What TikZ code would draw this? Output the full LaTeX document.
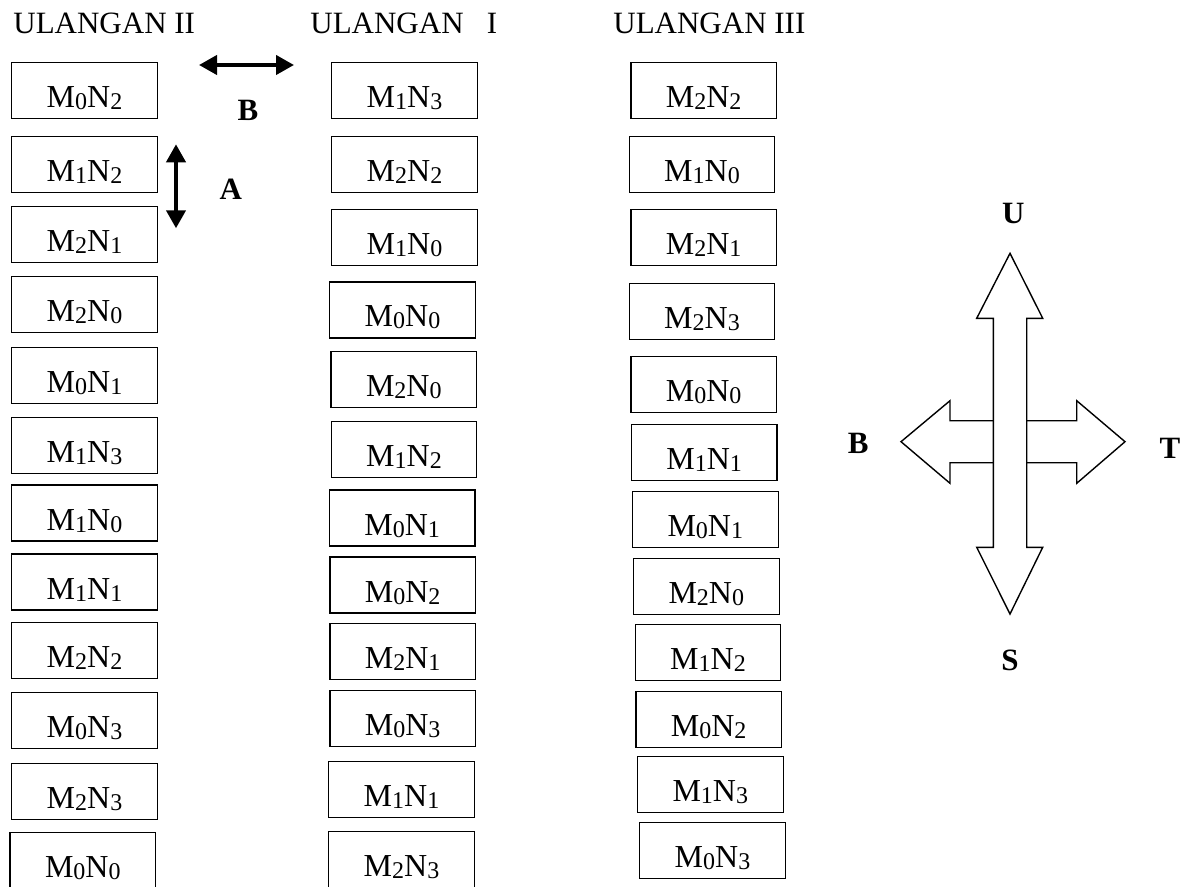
\documentclass[tikz,border=0pt]{standalone}
\usepackage{fontspec}
\setmainfont{Liberation Serif}
\usetikzlibrary{arrows.meta}
\newcommand{\sbx}[1]{\raisebox{-1pt}{\fontsize{12}{14}\selectfont #1}}
\newcommand{\mnlab}[2]{M\sbx{#1}N\sbx{#2}}
\begin{document}
\begin{tikzpicture}[x=0.5pt,y=-0.5pt,
  cell/.style={draw, line width=0.6pt, minimum width=72.8pt, minimum height=28pt, inner sep=0pt, text height=17pt, text depth=0pt, font=\fontsize{16}{19}\selectfont},
  ttl/.style={anchor=base west, inner sep=0pt, font=\fontsize{15.5}{18}\selectfont},
  lbl/.style={inner sep=0pt, font=\fontsize{15.5}{18}\selectfont\bfseries},
  dbl/.style={{Triangle[length=9pt,width=9.5pt]}-{Triangle[length=9pt,width=9.5pt]}, line width=2pt},
  compass/.style={line width=0.7pt, line join=miter}]
\clip (0,0) rectangle (1197,887);
\fill[white] (0,0) rectangle (1197,887);

% titles
\node[ttl] (t2) at (13,33.3) {ULANGAN II};
\node[ttl] (t1) at (310,33.3) {ULANGAN\hspace{0.75em}I};
\node[ttl] (t3) at (613,33.3) {ULANGAN III};

% column ULANGAN II
\node[cell] (a1)  at (84.5,90.3)  {\mnlab{0}{2}};
\node[cell] (a2)  at (84.5,164.2) {\mnlab{1}{2}};
\node[cell] (a3)  at (84.5,234.7) {\mnlab{2}{1}};
\node[cell] (a4)  at (84.5,304.7) {\mnlab{2}{0}};
\node[cell] (a5)  at (84.5,375.5) {\mnlab{0}{1}};
\node[cell] (a6)  at (84.5,445.2) {\mnlab{1}{3}};
\node[cell] (a7)  at (84.5,513)   {\mnlab{1}{0}};
\node[cell] (a8)  at (84.5,582)   {\mnlab{1}{1}};
\node[cell] (a9)  at (84.5,650.3) {\mnlab{2}{2}};
\node[cell] (a10) at (84.5,720.8) {\mnlab{0}{3}};
\node[cell] (a11) at (84.5,791.7) {\mnlab{2}{3}};
\node[cell] (a12) at (82.8,860.5) {\mnlab{0}{0}};

% column ULANGAN I
\node[cell] (b1)  at (404.5,90.3)  {\mnlab{1}{3}};
\node[cell] (b2)  at (404.5,164.2) {\mnlab{2}{2}};
\node[cell] (b3)  at (404.5,237.5) {\mnlab{1}{0}};
\node[cell] (b4)  at (402.5,310)   {\mnlab{0}{0}};
\node[cell] (b5)  at (403.8,379.7) {\mnlab{2}{0}};
\node[cell] (b6)  at (404,449.2)   {\mnlab{1}{2}};
\node[cell] (b7)  at (402.2,518)   {\mnlab{0}{1}};
\node[cell] (b8)  at (402.7,585)   {\mnlab{0}{2}};
\node[cell] (b9)  at (402.7,651.7) {\mnlab{2}{1}};
\node[cell] (b10) at (402.7,718.3) {\mnlab{0}{3}};
\node[cell] (b11) at (401.5,789.2) {\mnlab{1}{1}};
\node[cell] (b12) at (401.5,859.5) {\mnlab{2}{3}};

% column ULANGAN III
\node[cell] (c1)  at (703.7,90.3)  {\mnlab{2}{2}};
\node[cell] (c2)  at (702,164.2)   {\mnlab{1}{0}};
\node[cell] (c3)  at (703.7,237.5) {\mnlab{2}{1}};
\node[cell] (c4)  at (702,311.7)   {\mnlab{2}{3}};
\node[cell] (c5)  at (703.7,384.7) {\mnlab{0}{0}};
\node[cell] (c6)  at (704.2,452.5) {\mnlab{1}{1}};
\node[cell] (c7)  at (705.3,519.7) {\mnlab{0}{1}};
\node[cell] (c8)  at (706.3,586.3) {\mnlab{2}{0}};
\node[cell] (c9)  at (708,652.5)   {\mnlab{1}{2}};
\node[cell] (c10) at (708.7,719.5) {\mnlab{0}{2}};
\node[cell] (c11) at (710.3,784.2) {\mnlab{1}{3}};
\node[cell] (c12) at (712.5,850.3) {\mnlab{0}{3}};

% small arrows A and B
\coordinate (hbL) at (199,65);
\coordinate (hbR) at (294,65);
\draw[dbl] (hbL) -- (hbR);
\node[lbl] (lb) at (248,110) {B};
\coordinate (vaT) at (176,144.3);
\coordinate (vaB) at (176,228.3);
\draw[dbl] (vaT) -- (vaB);
\node[lbl] (la) at (230.7,189) {A};

% compass
\draw[compass] (1010,253.3) -- (1042.7,318.3) -- (1026.7,318.3) -- (1026.7,547.3)
  -- (1042.7,547.3) -- (1010,614) -- (976.7,547.3) -- (993.3,547.3)
  -- (993.3,318.3) -- (976.7,318.3) -- cycle;
\draw[compass] (1026.7,420.7) -- (1076.7,420.7) -- (1076.7,400.7) -- (1125,441.7)
  -- (1076.7,483.3) -- (1076.7,462.7) -- (1026.7,462.7);
\draw[compass] (993.3,420.7) -- (950,420.7) -- (950,400.7) -- (901,441.7)
  -- (950,483.3) -- (950,462.7) -- (993.3,462.7);
\node[lbl] (cu) at (1013.3,213.3) {U};
\node[lbl] (cb) at (858.3,443.3) {B};
\node[lbl] (ct) at (1170,448.3) {T};
\node[lbl] (cs) at (1010,660) {S};
\end{tikzpicture}
\end{document}
